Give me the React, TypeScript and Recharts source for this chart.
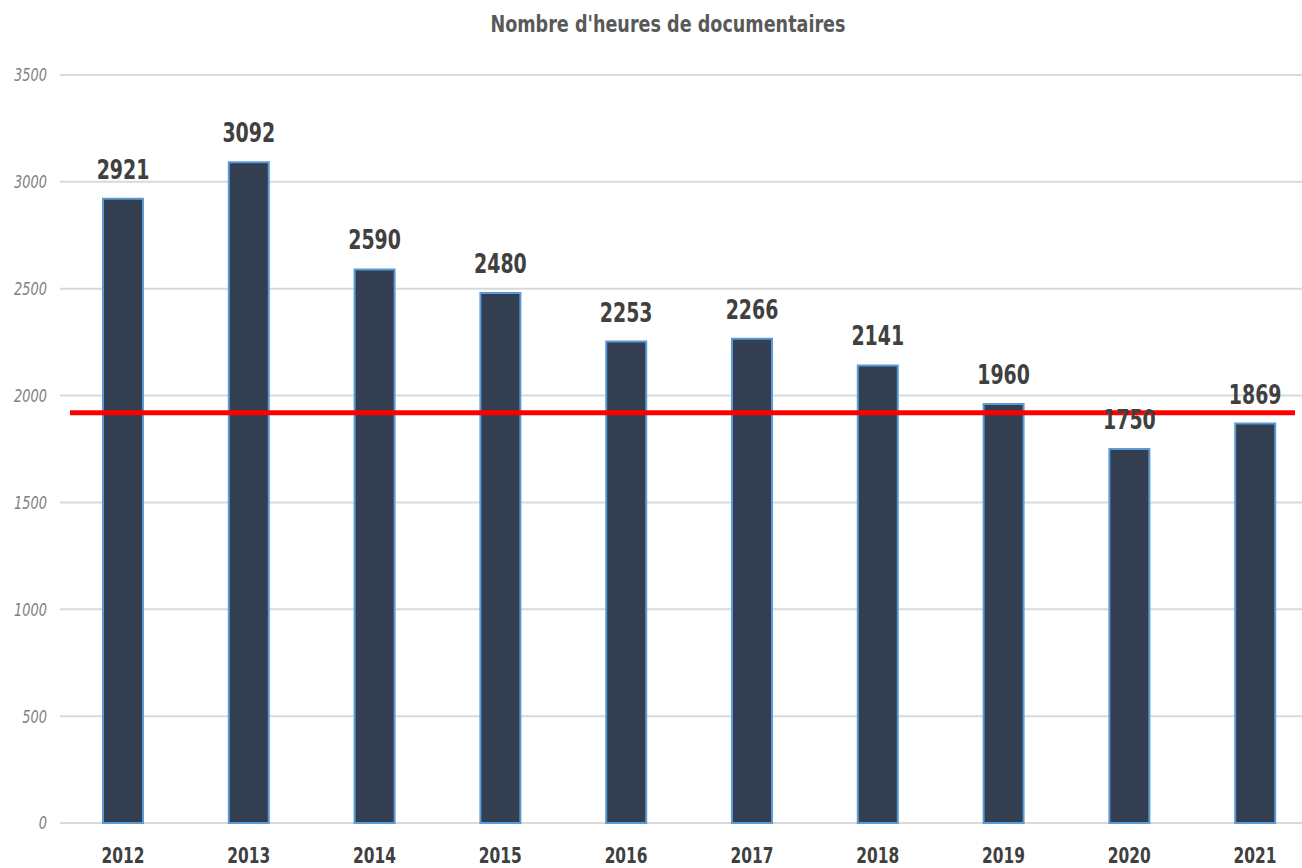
import { BarChart, Bar, XAxis, YAxis, CartesianGrid, ReferenceLine, LabelList } from 'recharts'

const years = ['2012', '2013', '2014', '2015', '2016', '2017', '2018', '2019', '2020', '2021']
const hours = [2921, 3092, 2590, 2480, 2253, 2266, 2141, 1960, 1750, 1869]
const yTicks = [0, 500, 1000, 1500, 2000, 2500, 3000, 3500]
const threshold = 1920

const font = "'DejaVu Sans Condensed', 'DejaVu Sans', sans-serif"
// the original uses a tall narrow face; squeeze the text horizontally
const narrow = { transformBox: 'fill-box', transformOrigin: 'center', transform: 'scaleX(0.78)' } as any
const narrowRight = { transformBox: 'fill-box', transformOrigin: 'right center', transform: 'scaleX(0.8)' } as any

const data = years.map((year, i) => ({ year, hours: hours[i] }))

// red threshold line, slightly shorter than the plot on both sides
function RedLine(p: any) {
  return <line x1={p.x1 + 10} y1={p.y1} x2={p.x2 - 23} y2={p.y2} stroke="#ff0000" strokeWidth={5} />
}

export default function App() {
  return (
    <div style={{ position: 'absolute', left: 0, top: 0, width: 1302, height: 868, overflow: 'hidden', background: '#fff' }}>
      <div
        style={{
          position: 'absolute', left: 0, top: 11, width: 1336, textAlign: 'center',
          fontFamily: font, fontWeight: 700, fontSize: 23, color: '#595959',
          transform: 'scaleX(0.85)', transformOrigin: '668px 0',
        }}
      >
        Nombre d'heures de documentaires
      </div>
      <BarChart width={1320} height={868} data={data} margin={{ top: 75, right: 2, left: 0, bottom: 0 }}>
        <CartesianGrid vertical={false} stroke="#d9d9d9" strokeWidth={2} />
        <XAxis
          dataKey="year"
          axisLine={false}
          tickLine={false}
          tickSize={0}
          tickMargin={24}
          height={45}
          tick={{ fontSize: 22, fontWeight: 700, fill: '#404040', fontFamily: font, style: narrow }}
        />
        <YAxis
          domain={[0, 3500]}
          ticks={yTicks}
          axisLine={false}
          tickLine={false}
          tickSize={0}
          tickMargin={13}
          width={60}
          tick={{ fontSize: 18, fontStyle: 'italic', fill: '#7f7f7f', fontFamily: font, style: narrowRight }}
        />
        <Bar dataKey="hours" barSize={40} fill="#333f50" stroke="#5b9bd5" strokeWidth={2} isAnimationActive={false}>
          <LabelList
            dataKey="hours"
            position="top"
            offset={20}
            style={{ fontSize: 27, fontWeight: 700, fill: '#404040', fontFamily: font, ...narrow }}
          />
        </Bar>
        <ReferenceLine y={threshold} shape={RedLine} />
      </BarChart>
    </div>
  )
}
